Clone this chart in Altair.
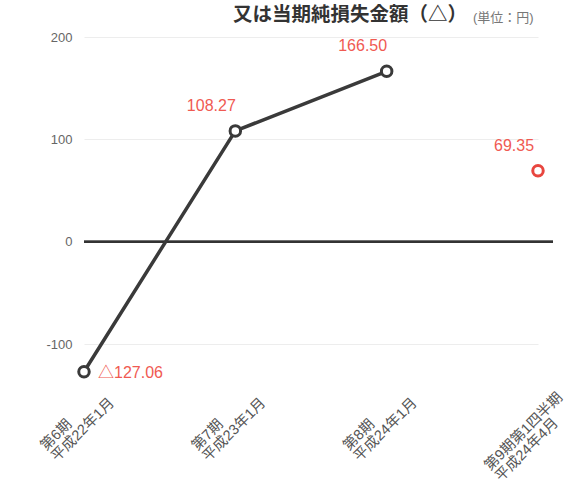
import altair as alt
import pandas as pd

# ---- data ----
periods = ["第6期", "第7期", "第8期", "第9期第1四半期"]
dates = ["平成22年1月", "平成23年1月", "平成24年1月", "平成24年4月"]
values = [-127.06, 108.27, 166.50, 69.35]
value_labels = ["△127.06", "108.27", "166.50", "69.35"]
series = ["通期", "通期", "通期", "四半期"]
y_ticks = [-100, 0, 100, 200]
title_text = "又は当期純損失金額（△）"
unit_text = "(単位：円)"

FONT = "Liberation Sans, Noto Sans CJK JP"
DARK = "#3a3a3a"
RED = "#e8463f"
LABEL_RED = "#f05a52"

df = pd.DataFrame({
    "period": periods,
    "date": dates,
    "value": values,
    "label": value_labels,
    "series": series,
})

# two-line tick labels: "period" over "date"
expr = "''"
for p, d in reversed(list(zip(periods, dates))):
    expr = f"datum.value == '{p}' ? ['{p}', '{d}'] : ({expr})"

long_label_test = f"datum.value == '{periods[-1]}'"

base = alt.Chart(df).encode(
    x=alt.X(
        "period:N",
        sort=periods,
        scale=alt.Scale(type="point", range=[0, 454], padding=0),
        axis=alt.Axis(
            title=None,
            labelExpr=expr,
            labelAngle=-45,
            labelAlign="left",
            labelBaseline="top",
            labelFont=FONT,
            labelFontSize=14.5,
            labelColor="#555",
            labelLineHeight=15,
            labelPadding={"condition": {"test": long_label_test, "value": 78}, "value": 58},
            labelOffset={"condition": {"test": long_label_test, "value": -56}, "value": -46},
            labelOverlap=False,
            domain=False,
            ticks=False,
            tickSize=0,
            grid=False,
        ),
    ),
    y=alt.Y(
        "value:Q",
        scale=alt.Scale(domain=[-140, 200], nice=False, zero=False),
        axis=alt.Axis(
            title=None,
            values=y_ticks,
            labelExpr="'' + datum.value",
            labelFont=FONT,
            labelFontSize=13,
            labelColor="#666",
            labelPadding=12,
            domain=False,
            ticks=False,
            grid=True,
            gridColor="#ededed",
            gridWidth=1,
        ),
    ),
)

zero = alt.Chart(df).mark_rule(color="#333", strokeWidth=2).encode(y=alt.datum(0))

line = base.transform_filter(alt.datum.series == "通期").mark_line(
    color=DARK, strokeWidth=3.5
)

points = base.mark_point(
    filled=False, fill="white", fillOpacity=1, opacity=1, size=110, strokeWidth=3
).encode(
    color=alt.Color(
        "series:N",
        scale=alt.Scale(domain=["通期", "四半期"], range=[DARK, RED]),
        legend=None,
    )
)

pos_labels = base.transform_filter(alt.datum.value > 0).mark_text(
    dx=-24, dy=-25, fontSize=16, color=LABEL_RED, font=FONT, align="center"
).encode(text="label:N")

neg_labels = base.transform_filter(alt.datum.value < 0).mark_text(
    dx=14, dy=1, fontSize=16, color=LABEL_RED, font=FONT, align="left", baseline="middle"
).encode(text="label:N")

title = alt.Chart(pd.DataFrame({"t": [title_text]})).mark_text(
    align="left", baseline="middle", fontSize=19.5, fontWeight="bold", color="#333", font=FONT
).encode(x=alt.value(149), y=alt.value(-22), text="t:N")

unit = alt.Chart(pd.DataFrame({"t": [unit_text]})).mark_text(
    align="left", baseline="middle", fontSize=13, color="#777", font=FONT
).encode(x=alt.value(389), y=alt.value(-19), text="t:N")

chart = alt.layer(zero, line, points, pos_labels, neg_labels, title, unit).properties(
    width=469,
    height=348,
    background="white",
    autosize=alt.AutoSizeParams(type="none"),
    padding={"left": 84, "top": 37, "right": 13, "bottom": 108},
).configure_view(strokeWidth=0, stroke="transparent")

chart.save("out.html", embed_options={"renderer": "svg", "actions": False})
